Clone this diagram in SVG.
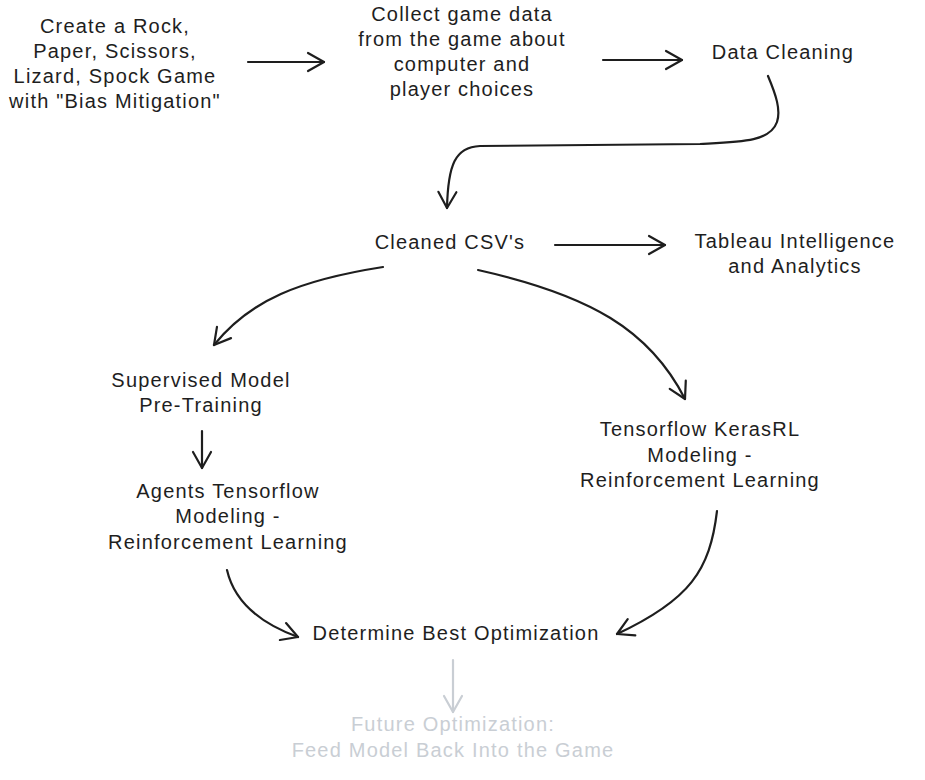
<svg xmlns="http://www.w3.org/2000/svg" width="925" height="780" viewBox="0 0 925 780">
<defs>
<style>
text{font-family:"Liberation Sans","Noto Sans",sans-serif;font-size:20px;letter-spacing:1.2px;fill:#1e1e1e;text-anchor:middle}
.g text{fill:#c9ced4}
.c path{fill:none;stroke:#1e1e1e;stroke-width:2.2;stroke-linecap:round;stroke-linejoin:round}
.c path.gr{stroke:#c9ced4}
</style>
<marker id="ah" viewBox="-10 -10 24 32" refX="11" refY="6" markerWidth="24" markerHeight="32" markerUnits="userSpaceOnUse" orient="auto">
<path d="M-5,-3 L11,6 L-5,15" fill="none" stroke="#1e1e1e" stroke-width="2.2" stroke-linecap="round" stroke-linejoin="round"/>
</marker>
<marker id="ahg" viewBox="-10 -10 24 32" refX="11" refY="6" markerWidth="24" markerHeight="32" markerUnits="userSpaceOnUse" orient="auto">
<path d="M-5,-3 L11,6 L-5,15" fill="none" stroke="#c9ced4" stroke-width="2.2" stroke-linecap="round" stroke-linejoin="round"/>
</marker>
</defs>
<rect width="925" height="780" fill="#ffffff"/>
<g class="c" id="connectors">
<path d="M248,62 L324,62" marker-end="url(#ah)"/>
<path d="M603,60 L682,60" marker-end="url(#ah)"/>
<path d="M768,76 C776,95 781,110 777,122 C770,142 740,142 700,144 L480,146 C455,147 448,165 447,208" marker-end="url(#ah)"/>
<path d="M555,245 L665,245" marker-end="url(#ah)"/>
<path d="M383,267 C300,280 250,300 214,345" marker-end="url(#ah)"/>
<path d="M478,270 C590,295 650,330 685,399" marker-end="url(#ah)"/>
<path d="M202,431 L202,468" marker-end="url(#ah)"/>
<path d="M227,570 C235,605 265,625 298,637" marker-end="url(#ah)"/>
<path d="M717,511 C710,570 690,600 617,634" marker-end="url(#ah)"/>
<path class="gr" d="M453,660 L453,712" marker-end="url(#ahg)"/>
</g>
<g id="n1"><text x="115" y="33">Create a Rock,</text><text x="115" y="58">Paper, Scissors,</text><text x="115" y="83">Lizard, Spock Game</text><text x="115" y="108">with "Bias Mitigation"</text></g>
<g id="n2"><text x="462" y="21">Collect game data</text><text x="462" y="46">from the game about</text><text x="462" y="71">computer and</text><text x="462" y="96">player choices</text></g>
<g id="n3"><text x="783" y="59">Data Cleaning</text></g>
<g id="n4"><text x="450" y="249">Cleaned CSV's</text></g>
<g id="n5"><text x="795" y="248">Tableau Intelligence</text><text x="795" y="273">and Analytics</text></g>
<g id="n6"><text x="201" y="387">Supervised Model</text><text x="201" y="412">Pre-Training</text></g>
<g id="n7"><text x="228" y="498">Agents Tensorflow</text><text x="228" y="523">Modeling -</text><text x="228" y="549">Reinforcement Learning</text></g>
<g id="n8"><text x="700" y="436">Tensorflow KerasRL</text><text x="700" y="462">Modeling -</text><text x="700" y="487">Reinforcement Learning</text></g>
<g id="n9"><text x="456" y="640">Determine Best Optimization</text></g>
<g id="n10" class="g"><text x="453" y="731">Future Optimization:</text><text x="453" y="757">Feed Model Back Into the Game</text></g>
</svg>
